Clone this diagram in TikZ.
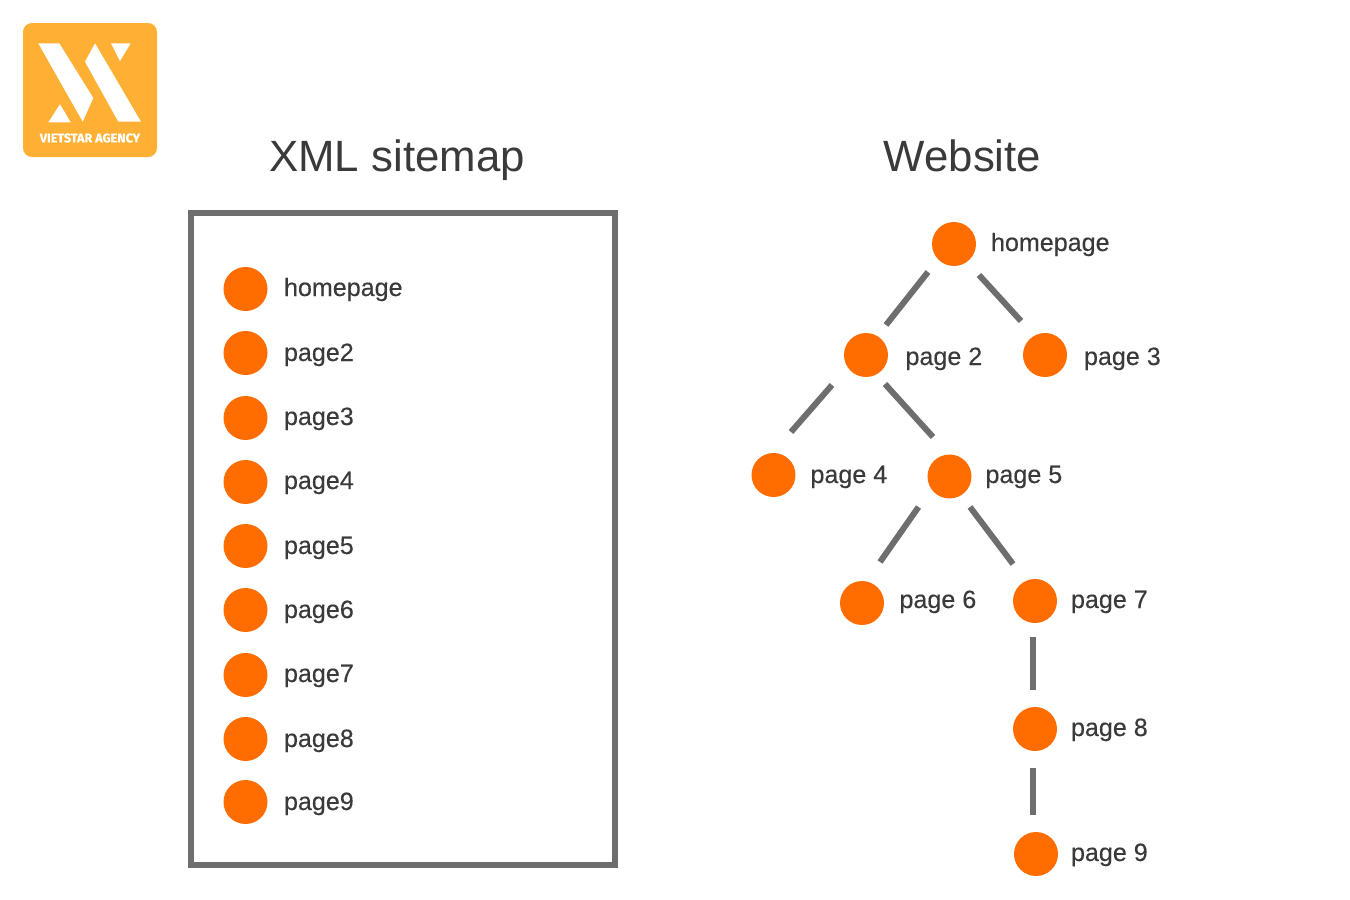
\documentclass[tikz,border=0pt]{standalone}
\usepackage{fontspec}
\setmainfont{Liberation Sans}
\newfontfamily\labelfont{Liberation Sans}[FakeBold=0.25]
\newfontfamily\logofont{Fira Sans Bold}[FakeBold=0.6]
\definecolor{dotorange}{HTML}{FF6D00}
\definecolor{framegray}{HTML}{6E6E6E}
\definecolor{inkgray}{HTML}{3A3A3A}
\definecolor{logoamber}{HTML}{FDB034}
\tikzset{
  dot/.style={circle,fill=dotorange,draw=none,minimum size=44pt,inner sep=0pt,outer sep=0pt},
  label text/.style={anchor=base west,inner sep=0pt,outer sep=0pt,text=inkgray,font=\labelfont\fontsize{25.1}{30}\selectfont},
  heading/.style={anchor=base,inner sep=0pt,outer sep=0pt,text=inkgray,font=\fontsize{43.8}{50}\selectfont},
  link/.style={draw=framegray,line width=6pt},
  logo mark/.style={fill=white,draw=none}
}
\begin{document}
\begin{tikzpicture}[x=1pt,y=-1pt]
\useasboundingbox (0,0) rectangle (1350,900);
\fill[white] (0,0) rectangle (1350,900);

% Agency badge
\fill[logoamber,rounded corners=9pt] (23,23) rectangle (157,157);
\fill[logo mark] (38.3,43.3) -- (59.3,43.3) -- (93.3,98) -- (82.7,121.7) -- cycle;
\fill[logo mark] (95,43.3) -- (85,61.7) -- (118.3,121.7) -- (141,121.7) -- cycle;
\fill[logo mark] (111,43.3) -- (130.7,43.3) -- (120,61) -- cycle;
\fill[logo mark] (48.3,122.3) -- (70.7,122.3) -- (60,104.3) -- cycle;
\node[inner sep=0pt,text=white,font=\logofont\fontsize{12.6}{13}\selectfont] (badge) at (90,138) {VIETSTAR AGENCY};

% Headings
\node[heading] (titleleft) at (397,171.5) {XML sitemap};
\node[heading] (titleright) at (962.5,171.5) {Website};

% Sitemap list
\draw[framegray,line width=6pt] (191.3,213.3) rectangle (614.5,864.5);
\node[dot] (a1) at (245.5,289) {};
\node[dot] (a2) at (245.5,353) {};
\node[dot] (a3) at (245.5,418) {};
\node[dot] (a4) at (245.5,482) {};
\node[dot] (a5) at (245.5,546) {};
\node[dot] (a6) at (245.5,610) {};
\node[dot] (a7) at (245.5,675) {};
\node[dot] (a8) at (245.5,739) {};
\node[dot] (a9) at (245.5,802) {};
\node[label text] (la1) at (284,296) {homepage};
\node[label text] (la2) at (284,361) {page2};
\node[label text] (la3) at (284,425) {page3};
\node[label text] (la4) at (284,489) {page4};
\node[label text] (la5) at (284,554) {page5};
\node[label text] (la6) at (284,618) {page6};
\node[label text] (la7) at (284,682) {page7};
\node[label text] (la8) at (284,747) {page8};
\node[label text] (la9) at (284,810) {page9};

% Site tree
\node[dot] (home) at (954,244) {};
\node[dot] (p2) at (866,355) {};
\node[dot] (p3) at (1045,355) {};
\node[dot] (p4) at (773.5,475) {};
\node[dot] (p5) at (949.5,476.5) {};
\node[dot] (p6) at (862,603) {};
\node[dot] (p7) at (1035,601) {};
\node[dot] (p8) at (1035,729) {};
\node[dot] (p9) at (1036,854) {};
\node[label text] (lhome) at (991,251) {homepage};
\node[label text] (lp2) at (905.5,365) {page 2};
\node[label text] (lp3) at (1084,365) {page 3};
\node[label text] (lp4) at (810.5,483) {page 4};
\node[label text] (lp5) at (985.5,483) {page 5};
\node[label text] (lp6) at (899.5,608) {page 6};
\node[label text] (lp7) at (1071,608) {page 7};
\node[label text] (lp8) at (1071,736) {page 8};
\node[label text] (lp9) at (1071,861) {page 9};

\draw[link] ([shift={(-26,28)}]home.center) -- ([shift={(20,-30)}]p2.center);
\draw[link] ([shift={(25,31)}]home.center) -- ([shift={(-24,-34)}]p3.center);
\draw[link] ([shift={(-34,30)}]p2.center) -- ([shift={(17.5,-43)}]p4.center);
\draw[link] ([shift={(19,29)}]p2.center) -- ([shift={(-16.5,-39.5)}]p5.center);
\draw[link] ([shift={(-31,30.5)}]p5.center) -- ([shift={(18,-41)}]p6.center);
\draw[link] ([shift={(20.5,30.5)}]p5.center) -- ([shift={(-22,-37)}]p7.center);
\draw[link] ([shift={(-2,36)}]p7.center) -- ([shift={(-2,-39)}]p8.center);
\draw[link] ([shift={(-2,39)}]p8.center) -- ([shift={(-3,-39)}]p9.center);
\end{tikzpicture}
\end{document}
